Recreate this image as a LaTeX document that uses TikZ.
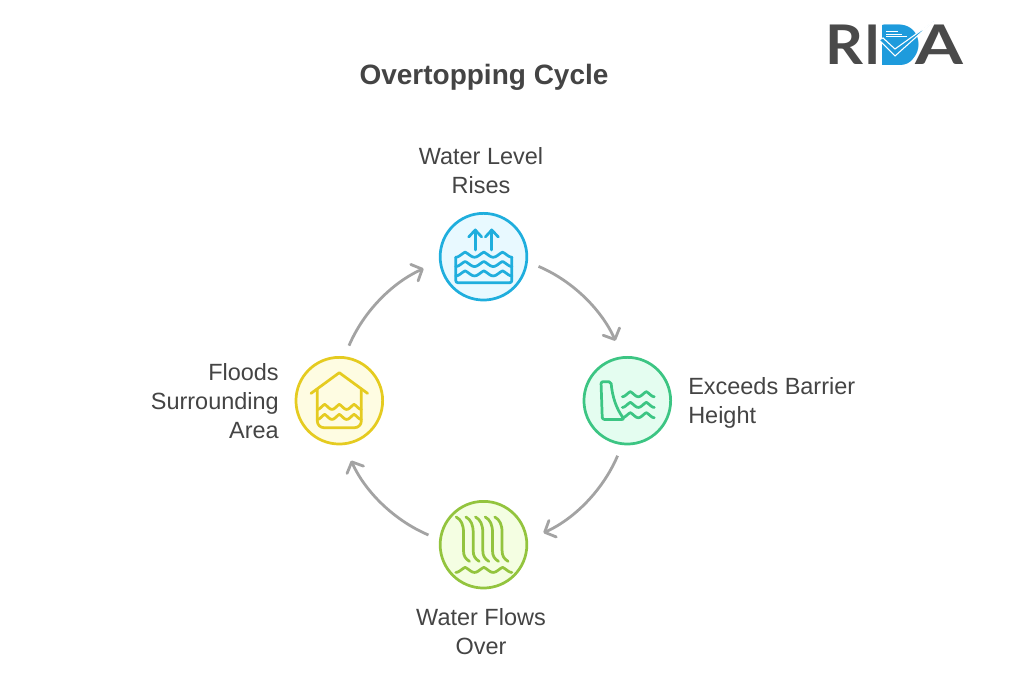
\documentclass[tikz,border=0pt]{standalone}
\usepackage{fontspec}
\setmainfont{Liberation Sans}
\newfontfamily\logofont{Lato}
\usetikzlibrary{arrows.meta}

\definecolor{textgray}{HTML}{444444}
\definecolor{arrowgray}{HTML}{A3A3A3}
\definecolor{riseblue}{HTML}{1FAEDD}
\definecolor{risefill}{HTML}{E8F9FF}
\definecolor{barriergreen}{HTML}{3CC583}
\definecolor{barrierfill}{HTML}{E4FDF0}
\definecolor{flowolive}{HTML}{93C43E}
\definecolor{flowfill}{HTML}{F4FEE2}
\definecolor{floodyellow}{HTML}{E5CB20}
\definecolor{floodfill}{HTML}{FEFCE2}
\definecolor{logogray}{HTML}{4A4A4A}
\definecolor{logoblue}{HTML}{1E9BDC}

\tikzset{
  stage/.style={circle,minimum size=65pt,inner sep=0pt,outer sep=9.4pt,line width=2.05pt},
  icon/.style={line width=2.05pt,line cap=round,line join=round},
  caption/.style={text=textgray,font=\fontsize{17.6}{21.75}\selectfont,inner sep=0pt},
  cyclearrow/.style={draw=arrowgray,line width=2.1pt,shorten >=4pt,looseness=.87,-{Straight Barb[length=6.5pt,width=13.5pt,round]}},
  logoletter/.style={font=\logofont\bfseries\fontsize{41}{41}\selectfont,inner sep=0pt,anchor=base west}
}

% trough start, base line, period, humps, height
\newcommand{\wavy}[5]{\draw[icon] plot[domain=0:#4,samples=61] ({#1+\x*#3},{#2-#5*(1-.5*abs(sin(180*(\x+.5)))-.5*sin(180*(\x+.5))*sin(180*(\x+.5)))});}

\begin{document}
\begin{tikzpicture}[x=.75pt,y=-.75pt]
\useasboundingbox (0,0) rectangle (1024,695);

\node[text=textgray,inner sep=0pt,font=\bfseries\fontsize{21}{25}\selectfont] (title) at (484,77.5) {Overtopping Cycle};

% stages
\node[stage,draw=riseblue,fill=risefill] (rises) at (483.5,256.7) {};
\node[stage,draw=barriergreen,fill=barrierfill] (exceeds) at (627.3,400.7) {};
\node[stage,draw=flowolive,fill=flowfill] (flows) at (483.5,544.7) {};
\node[stage,draw=floodyellow,fill=floodfill] (floods) at (339.3,400.7) {};

% captions
\node[caption,align=center] (risestext) at (481,170.5) {Water Level\\Rises};
\node[caption,align=left,anchor=west] (exceedstext) at (688,403) {Exceeds Barrier\\Height};
\node[caption,align=center] (flowstext) at (481,631.5) {Water Flows\\Over};
\node[caption,align=right,anchor=east] (floodstext) at (279,401) {Floods\\Surrounding\\Area};

% cycle
\draw[cyclearrow] (rises.-10) to[out=-23,in=114] (exceeds.100);
\draw[cyclearrow] (exceeds.-100) to[out=-113,in=24] (flows.10);
\draw[cyclearrow] (flows.170) to[out=157,in=-66] (floods.-80);
\draw[cyclearrow] (floods.80) to[out=67,in=-156] (rises.190);

% water rising
\begin{scope}[shift={(rises.center)},color=riseblue]
\foreach \y in {0.5,9.8,19.2} {\wavy{-27.7}{\y}{18.7}{3}{5}}
\draw[icon,rounded corners=1.5pt] (-27.7,0.5) -- (-27.7,26) -- (28.3,26) -- (28.3,0.5);
\foreach \x in {-8.3,8.3} {
  \draw[icon] (\x,-6.7) -- (\x,-26.7);
  \draw[icon] (\x-6.5,-19.7) -- (\x,-26.7) -- (\x+6.5,-19.7);
}
\end{scope}

% dam
\begin{scope}[shift={(exceeds.center)},color=barriergreen]
\draw[icon,rounded corners=1.5pt] (-25,18.7) -- (-26.3,-19) -- (-16.3,-19) .. controls (-15,-4) and (-11,8) .. (-3,18.7) -- cycle;
\foreach \y in {-4,6.7,17} {\wavy{-5}{\y}{16}{2}{5}}
\end{scope}

% falling water
\begin{scope}[shift={(flows.center)},color=flowolive]
\foreach \x in {-27.3,-17.6,-8,1.7,11.3} {
  \draw[icon] (\x,-27.7) .. controls (\x+5,-25) and (\x+7.3,-20) .. (\x+7.3,-12) -- (\x+7.3,6) .. controls (\x+7.3,11) and (\x+9,14) .. (\x+13.3,16.7);
}
\wavy{-27.7}{27.7}{18.7}{3}{5}
\end{scope}

% flooded house
\begin{scope}[shift={(floods.center)},color=floodyellow]
\draw[icon] (-28.3,-7.3) -- (0,-28) -- (28.3,-7.3);
\draw[icon,rounded corners=5pt] (-22,-11.3) -- (-22,27) -- (22,27) -- (22,-11.3);
\foreach \y in {8.7,18.7} {\wavy{-22}{\y}{14.7}{3}{5}}
\end{scope}

% logo
\node[logoletter,text=logogray] (logor) at (825,65) {\scalebox{1.08}[1]{R}};
\node[logoletter,text=logogray] (logoi) at (864,65) {I};
\fill[logoblue] (882,25) -- (900,25) .. controls (911,25) and (917,34) .. (917,45) .. controls (917,56) and (911,65) .. (900,65) -- (882,65) -- cycle;
\node[logoletter,text=logoblue] (logod) at (879,65) {D};
\node[logoletter,text=logogray] (logoa) at (915,65) {\scalebox{1.26}[1]{A}};
\foreach \y/\e in {31.7/898.3,34.3/901.7,36.7/906.7} {
  \draw[white,line width=.9pt] (886,\y) -- (\e,\y);
}
\path[fill=logoblue,draw=white,line width=.8pt] (879,40) -- (883,38) -- (895,49) -- (933.3,21.7) -- (895,56) -- cycle;
\end{tikzpicture}
\end{document}
